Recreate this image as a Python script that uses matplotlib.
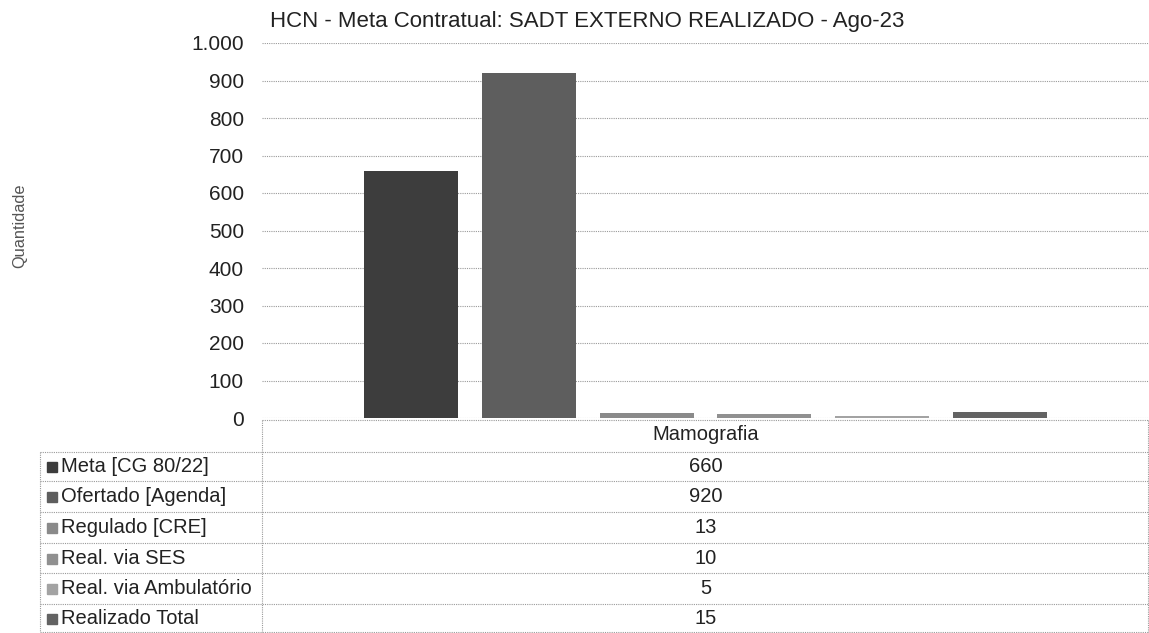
import matplotlib.pyplot as plt
import numpy as np

plt.rcParams['font.family'] = ['Liberation Sans', 'DejaVu Sans']

category = 'Mamografia'
series_names = ['Meta [CG 80/22]', 'Ofertado [Agenda]', 'Regulado [CRE]',
                'Real. via SES', 'Real. via Ambulatório', 'Realizado Total']
values = [660, 920, 13, 10, 5, 15]
colors = ['#3d3d3d', '#5e5e5e', '#8a8a8a', '#909090', '#a3a3a3', '#636363']
yticks = [0, 100, 200, 300, 400, 500, 600, 700, 800, 900, 1000]
title = 'HCN - Meta Contratual: SADT EXTERNO REALIZADO - Ago-23'

W, H = 1149, 633
fig = plt.figure(figsize=(W / 100, H / 100), dpi=100)

# plot area in pixels
px0, px1 = 262, 1149
py_top, py_zero = 43, 418


def fx(x):
    return x / W


def fy(y):
    return 1 - y / H


ax = fig.add_axes([fx(px0), fy(py_zero), fx(px1 - px0), (py_zero - py_top) / H])
step = 0.133
width = 0.106
offsets = (np.arange(len(values)) - 2.5) * step
ax.bar(offsets, values, width=width, color=colors, zorder=3)
ax.set_xlim(-0.5, 0.5)
ax.set_ylim(0, 1000)
ax.set_yticks(yticks)
ax.set_yticklabels([f'{v:,}'.replace(',', '.') for v in yticks], fontsize=15, color='#222')
ax.set_xticks([])
ax.tick_params(axis='y', length=0, pad=13)
for s in ax.spines.values():
    s.set_visible(False)
ax.grid(axis='y', linestyle=(0, (1, 1)), color='#9a9a9a', linewidth=0.8, zorder=0)
ax.set_axisbelow(True)

fig.text(fx(270), fy(21), title, fontsize=16, color='#222', va='center', ha='left')
fig.text(fx(20), fy(226), 'Quantidade', fontsize=11.8, color='#555', rotation=90,
         va='center', ha='center')

# data table
tx = fig.add_axes([0, 0, 1, 1], facecolor='none')
tx.set_xlim(0, W)
tx.set_ylim(H, 0)
tx.axis('off')
rows = [420, 452, 481, 512, 543, 573, 604, 632]
line_kw = dict(color='#9a9a9a', linewidth=0.8, linestyle=(0, (1, 1)))
tx.plot([px0, px1], [rows[0], rows[0]], **line_kw)
for r in rows[1:]:
    tx.plot([40, px1], [r, r], **line_kw)
tx.plot([px0, px0], [rows[0], rows[-1]], **line_kw)
tx.plot([40, 40], [rows[1], rows[-1]], **line_kw)
tx.plot([px1 - 1, px1 - 1], [rows[0], rows[-1]], **line_kw)

cx = (px0 + px1) / 2
tx.text(cx, (rows[0] + rows[1]) / 2 - 1, category, fontsize=14.5, ha='center', va='center', color='#222')
for i, (name, v, c) in enumerate(zip(series_names, values, colors)):
    yc = (rows[i + 1] + rows[i + 2]) / 2
    tx.add_patch(plt.Rectangle((47, yc - 4.5), 10, 10, color=c))
    tx.text(61, yc, name, fontsize=14.5, ha='left', va='center', color='#222')
    tx.text(cx, yc, str(v), fontsize=14.5, ha='center', va='center', color='#222')

fig.savefig('out.png', dpi=100)
